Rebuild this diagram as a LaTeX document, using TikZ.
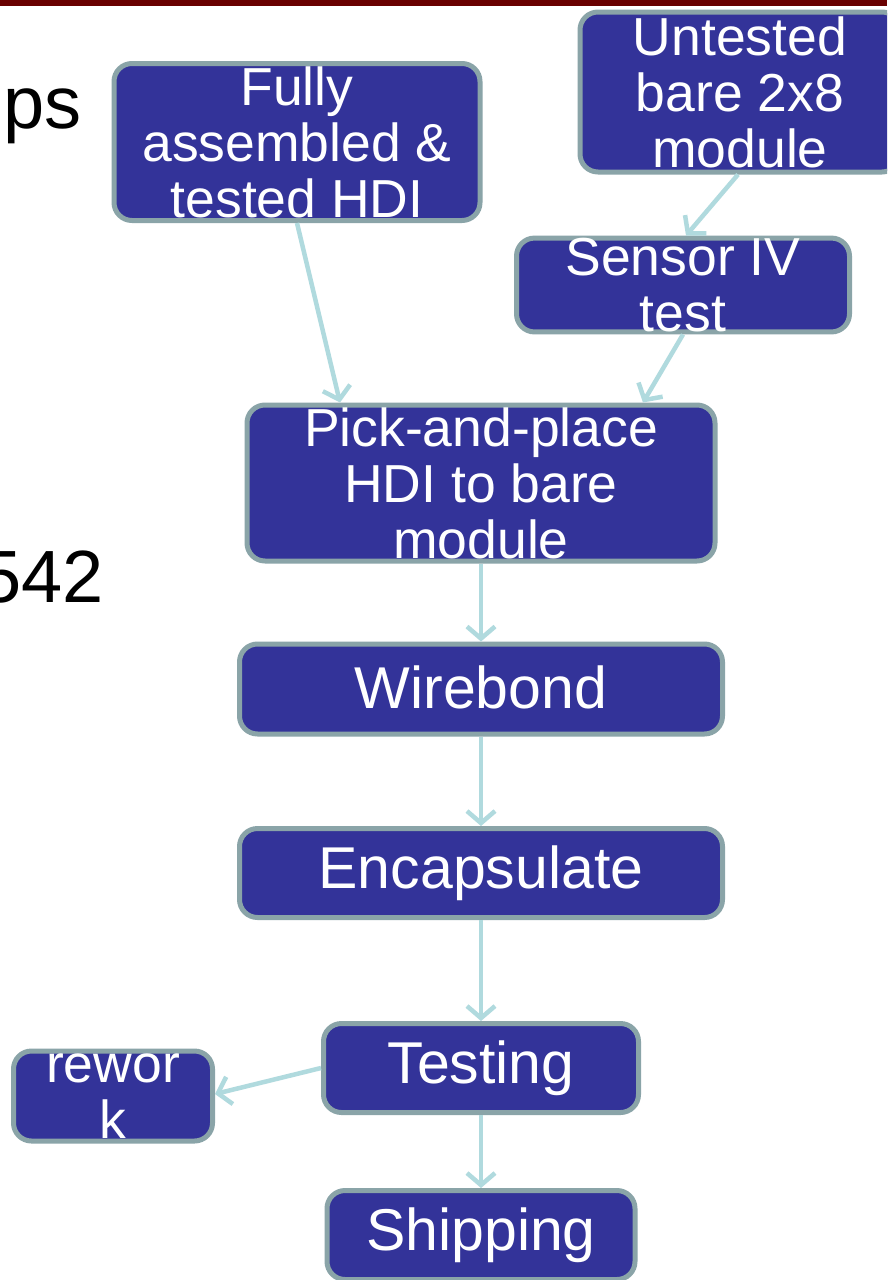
\documentclass[tikz,border=0pt]{standalone}
\usepackage{fontspec}
\setmainfont{Liberation Sans}
\usetikzlibrary{arrows.meta}
\definecolor{boxfill}{RGB}{51,51,153}
\definecolor{boxline}{RGB}{138,164,168}
\definecolor{arrowc}{RGB}{176,218,222}
\definecolor{topred}{RGB}{105,0,0}
\tikzset{
  proc/.style={draw=boxline, fill=boxfill, line width=5pt, rounded corners=18pt,
    text=white, align=center, inner sep=0pt,
    font=\fontsize{59}{56}\selectfont},
  multi/.style={proc, font=\fontsize{53.5}{56}\selectfont},
  flow/.style={draw=arrowc, line width=4.5pt,
    -{Straight Barb[length=12pt,width=28pt]}},
  frag/.style={inner sep=0pt, text=black, font=\fontsize{74}{74}\selectfont}
}
\begin{document}
\begin{tikzpicture}[x=1pt,y=-1pt]
\useasboundingbox (0,0) rectangle (887,1280);
\fill[white] (0,0) rectangle (887,1280);
\begin{scope}
\clip (0,0) rectangle (887,1280);
\fill[topred] (0,0) rectangle (887,6);
% left fragments of slide text
\node[frag, anchor=base east] (fragps) at (82,128) {ps};
\node[frag, anchor=base east] (frag542) at (104,602) {542};
% boxes
\node[multi, minimum width=366pt, minimum height=157pt] (hdi) at (297,142) {Fully\\assembled \&\\tested HDI};
\node[multi, minimum width=320pt, minimum height=160pt] (bare) at (740,92) {Untested\\bare 2x8\\module};
\node[multi, minimum width=333pt, minimum height=89pt] (iv) at (683,285) {Sensor IV\\test};
\node[multi, minimum width=468pt, minimum height=156pt] (pnp) at (481,483) {Pick-and-place\\HDI to bare\\module};
\node[proc, minimum width=483pt, minimum height=90pt] (wb) at (481,689) {\raisebox{3pt}{Wirebond}};
\node[proc, minimum width=483pt, minimum height=89pt] (enc) at (481,873) {\raisebox{3pt}{Encapsulate}};
\node[proc, minimum width=315pt, minimum height=89pt] (test) at (481,1068) {\raisebox{3pt}{Testing}};
\node[multi, minimum width=199pt, minimum height=90pt] (rew) at (113,1096) {rewor\\k};
\node[proc, minimum width=308pt, minimum height=89pt] (ship) at (481,1235) {Shipping};
% connectors
\draw[flow] (hdi.south) -- ([xshift=-141pt]pnp.north);
\draw[flow] ([xshift=-2pt]bare.south) -- ([xshift=3pt]iv.north);
\draw[flow] (iv.south) -- ([xshift=162pt]pnp.north);
\draw[flow] (pnp.south) -- (wb.north);
\draw[flow] (wb.south) -- (enc.north);
\draw[flow] (enc.south) -- (test.north);
\draw[flow] (test.south) -- (ship.north);
\draw[flow] (test.west) -- ([yshift=2pt]rew.east);
\end{scope}
\end{tikzpicture}
\end{document}
